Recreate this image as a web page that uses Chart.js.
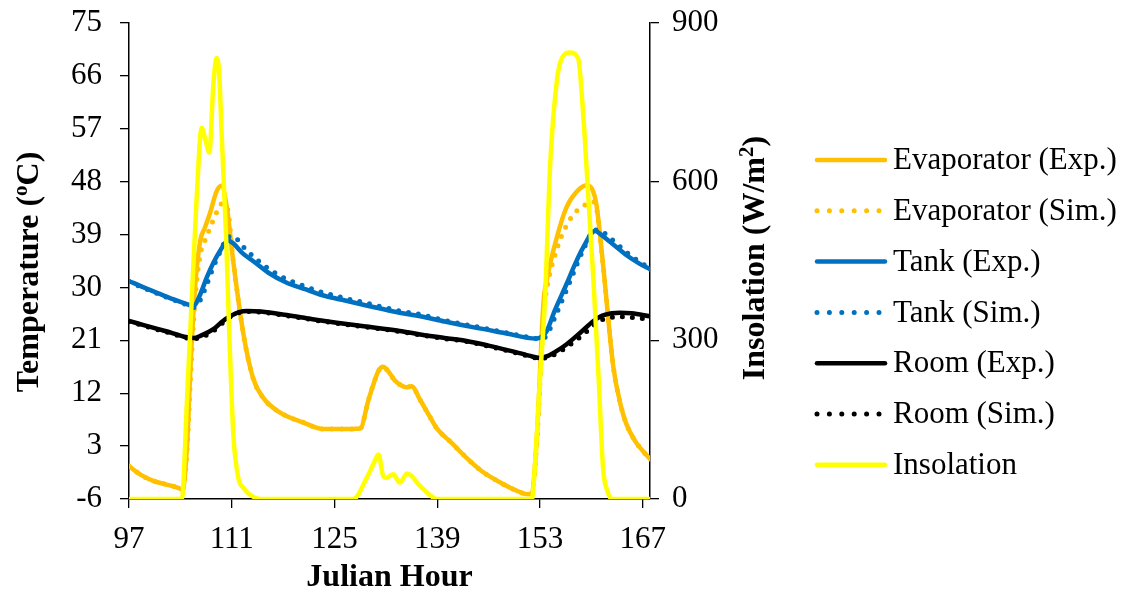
<!DOCTYPE html>
<html>
<head>
<meta charset="utf-8">
<script src="https://cdn.jsdelivr.net/npm/chart.js@4"></script>
<style>
  html, body { margin: 0; padding: 0; background: #fff; }
  canvas { display: block; }
</style>
</head>
<body>
<canvas id="thermalChart" width="1133" height="597"></canvas>
<script>
// Axis ticks
const hourTicks = [97, 111, 125, 139, 153, 167];
const tempTicks = [-6, 3, 12, 21, 30, 39, 48, 57, 66, 75];
const insolTicks = [0, 300, 600, 900];

// Evaporator temperatures (°C)
const evapHours = [97, 98.5, 100.3, 102, 103.7, 104.3, 104.9, 105.4, 106, 106.7, 107.35, 108, 108.95, 109.6, 110.4, 111.2, 112.6, 113.9, 115.3, 117.6, 120.8, 123.5, 126, 128.5, 129.6, 130.3, 131, 131.6, 132.3, 133.2, 134, 134.8, 135.5, 136.7, 138, 138.9, 141, 143, 145, 147.6, 149.5, 151.4, 151.9, 152.6, 153.5, 153.9, 155.3, 156.6, 158, 159.4, 160.2, 160.7, 161.6, 163, 164, 164.8, 166, 167, 168];
const evapExp = [-0.4, -1.8, -2.9, -3.5, -4.1, -4.4, 3, 17, 30, 37.9, 40.2, 42.5, 46.4, 47.3, 43, 34.5, 22, 14.6, 11.2, 8.7, 7, 5.9, 5.9, 6, 10.7, 13.5, 15.8, 16.5, 15.8, 14.2, 13.4, 13, 13.2, 10.8, 8, 6.1, 3.5, 1, -1.2, -3.2, -4.4, -5.2, -5, 5, 27.7, 31.1, 38.5, 43.6, 46.3, 47.4, 46.5, 44.1, 33.9, 16.5, 10, 6.7, 3.8, 2.2, 0.8];
const evapSim = [-0.4, -1.8, -2.9, -3.5, -4.1, -4.4, 2, 15, 28, 35.5, 38, 40, 42.8, 44.2, 43.5, 34.5, 22, 14.6, 11.2, 8.7, 7, 5.9, 5.9, 6, 10.7, 13.5, 15.8, 16.5, 15.8, 14.2, 13.4, 13, 13.2, 10.8, 8, 6.1, 3.5, 1, -1.2, -3.2, -4.4, -5.2, -5, 4, 25.5, 29.5, 36.5, 40.5, 43, 44.2, 44.6, 43.5, 33.9, 16.5, 10, 6.7, 3.8, 2.2, 0.8];

// Storage tank temperatures (°C)
const tankHours = [97, 99, 101, 103, 105, 105.8, 106.6, 107.6, 108.5, 109.4, 110.5, 111.2, 112.5, 113.9, 116, 118.5, 121, 123, 126, 129.8, 133.9, 136.7, 140, 144, 148, 152.5, 153.2, 153.9, 155, 156.6, 157.8, 158.9, 160.5, 161.5, 162.5, 163.5, 165, 166.5, 168];
const tankExp = [31.1, 30, 29, 28, 27.1, 26.8, 28.5, 31.7, 34.2, 36.2, 38, 37.5, 35.8, 34.5, 32.5, 30.8, 29.7, 28.8, 27.9, 26.8, 25.7, 25.1, 24.2, 23.2, 22.3, 21.3, 21.6, 22.5, 26, 30.5, 34, 36.8, 39.6, 38.8, 37.8, 36.8, 35.3, 34.1, 33.1];
const tankSim = [31, 29.9, 28.9, 27.9, 27, 26.6, 27.6, 30.5, 33.5, 36, 38.6, 38.7, 37, 35.3, 33.2, 31.4, 30.2, 29.3, 28.3, 27.2, 26, 25.4, 24.4, 23.4, 22.4, 21.3, 21.2, 21.8, 24.8, 29.5, 33.2, 36.4, 39.8, 39.5, 38.5, 37.4, 35.8, 34.4, 33.3];

// Room temperatures (°C)
const roomHours = [97, 99, 101, 103, 104.5, 105.8, 106.8, 108.5, 109.8, 110.8, 112, 113.1, 115, 118.5, 122, 125.3, 129, 133.9, 136.7, 140, 143, 146, 149, 151.5, 153, 154, 155.3, 156.6, 158.5, 160.3, 161.5, 162.8, 163.9, 165.5, 168];
const roomExp = [24.3, 23.6, 22.9, 22.2, 21.6, 21.4, 21.8, 22.9, 24.3, 25.1, 25.8, 26, 25.9, 25.3, 24.6, 24, 23.4, 22.6, 22, 21.4, 20.9, 20.1, 19.2, 18.4, 18, 18.3, 19.2, 20.3, 22.3, 24.3, 25.2, 25.6, 25.7, 25.6, 25.1];
const roomSim = [24.2, 23.5, 22.8, 22.1, 21.5, 21.3, 21.5, 22.6, 24, 25, 25.7, 25.9, 25.8, 25.2, 24.5, 23.9, 23.3, 22.5, 21.9, 21.3, 20.8, 20, 19.1, 18.3, 17.9, 18.1, 18.8, 19.8, 21.6, 23.5, 24.5, 24.9, 25, 24.9, 24.6];

// Solar insolation (W/m²)
const insolHours = [97, 104.2, 104.9, 105.54, 106.2, 106.9, 107.4, 107.95, 108.5, 108.95, 109.3, 109.63, 110.22, 110.67, 111.22, 111.9, 112.6, 113.5, 114.85, 127.57, 129.4, 130.3, 131, 131.66, 132.1, 133, 133.9, 134.9, 136.66, 137.8, 138.9, 151.9, 152.3, 153, 153.7, 154.4, 155.3, 156, 157.1, 158.2, 158.9, 159.6, 160.3, 161, 161.6, 162.2, 162.8, 168];
const insolation = [0, 0, 186, 374, 563, 702, 680, 655, 784, 834, 803, 689, 500, 311, 122, 40, 21, 8, 0, 0, 40, 66, 84, 43, 40, 47, 31, 48, 25, 10, 0, 0, 59, 225, 380, 633, 790, 834, 844, 834, 727, 570, 412, 229, 59, 15, 0, 0];

const seriesNames = ['Evaporator (Exp.)', 'Evaporator (Sim.)', 'Tank (Exp.)', 'Tank (Sim.)', 'Room (Exp.)', 'Room (Sim.)', 'Insolation'];
const seriesColors = ['#FFC000', '#FFC000', '#0070C0', '#0070C0', '#000000', '#000000', '#FFFF00'];
const seriesDotted = [false, true, false, true, false, true, false];

const serif = "'Times New Roman', 'Liberation Serif', serif";

function toPoints(xs, ys) {
    return xs.map((x, i) => ({ x: x, y: ys[i] }));
}

function makeDataset(idx, points, axis) {
    const dotted = seriesDotted[idx];
    return {
        label: seriesNames[idx],
        data: points,
        yAxisID: axis,
        borderColor: seriesColors[idx],
        backgroundColor: seriesColors[idx],
        borderWidth: dotted ? 5 : 4.5,
        borderDash: dotted ? [0, 10] : [],
        borderCapStyle: 'round',
        borderJoinStyle: 'round',
        pointRadius: 0,
        cubicInterpolationMode: 'monotone',
        fill: false,
        order: 6 - idx // later series sit on top
    };
}

// fixed axis sizes so the plot area lands where it should
function fixVertical(width) {
    return s => {
        s.width = width;
        s.paddingTop = 0;
        s.paddingBottom = 0;
    };
}

// draws text rotated -90deg around (cx, cy), with superscript pieces
function drawRotatedTitle(ctx, parts, cx, cy) {
    const base = 'bold 32px ' + serif;
    const sup = 'bold 21px ' + serif;
    let total = 0;
    parts.forEach(p => {
        ctx.font = p[1] ? sup : base;
        total += ctx.measureText(p[0]).width;
    });
    ctx.save();
    ctx.translate(cx, cy);
    ctx.rotate(-Math.PI / 2);
    ctx.textAlign = 'left';
    ctx.textBaseline = 'alphabetic';
    let x = -total / 2;
    parts.forEach(p => {
        ctx.font = p[1] ? sup : base;
        ctx.fillText(p[0], x, p[1] ? 0 : 11);
        x += ctx.measureText(p[0]).width;
    });
    ctx.restore();
}

// Axis titles and the legend on the right
const decorations = {
    id: 'decorations',
    afterDraw(chart) {
        const ctx = chart.ctx;
        const area = chart.chartArea;
        ctx.save();
        ctx.fillStyle = '#000';

        ctx.font = 'bold 32px ' + serif;
        ctx.textAlign = 'center';
        ctx.textBaseline = 'middle';
        ctx.fillText('Julian Hour', (area.left + area.right) / 2, 578);

        drawRotatedTitle(ctx, [['Temperature (', 0], ['o', 1], ['C)', 0]], 27, 272);
        drawRotatedTitle(ctx, [['Insolation (W/m', 0], ['2', 1], [')', 0]], 753, 258);

        seriesNames.forEach((name, i) => {
            const y = 160 + i * 50.8;
            ctx.beginPath();
            ctx.strokeStyle = seriesColors[i];
            ctx.lineCap = 'round';
            if (seriesDotted[i]) {
                ctx.lineWidth = 5;
                ctx.setLineDash([0, 12.4]);
            } else {
                ctx.lineWidth = 4.5;
                ctx.setLineDash([]);
            }
            ctx.moveTo(817, y);
            ctx.lineTo(885, y);
            ctx.stroke();
            ctx.setLineDash([]);
            ctx.font = '31px ' + serif;
            ctx.textAlign = 'left';
            ctx.textBaseline = 'middle';
            ctx.fillText(name, 893, y + 1);
        });
        ctx.restore();
    }
};

const ctxThermal = document.getElementById('thermalChart').getContext('2d');
const thermalChart = new Chart(ctxThermal, {
    type: 'line',
    data: {
        datasets: [
            makeDataset(0, toPoints(evapHours, evapExp), 'y'),
            makeDataset(1, toPoints(evapHours, evapSim), 'y'),
            makeDataset(2, toPoints(tankHours, tankExp), 'y'),
            makeDataset(3, toPoints(tankHours, tankSim), 'y'),
            makeDataset(4, toPoints(roomHours, roomExp), 'y'),
            makeDataset(5, toPoints(roomHours, roomSim), 'y'),
            makeDataset(6, toPoints(insolHours, insolation), 'y2')
        ]
    },
    options: {
        responsive: false,
        animation: false,
        devicePixelRatio: 1,
        layout: {
            padding: { left: 0, right: 353, top: 23, bottom: 0 }
        },
        plugins: {
            legend: { display: false },
            tooltip: { enabled: false }
        },
        scales: {
            x: {
                type: 'linear',
                min: 97,
                max: 168,
                afterBuildTicks: s => { s.ticks = hourTicks.map(v => ({ value: v })); },
                afterFit: s => { s.height = 98; },
                grid: { drawOnChartArea: false, drawTicks: true, tickLength: 9, color: '#000', lineWidth: 1.3 },
                border: { display: true, color: '#000', width: 1.5 },
                ticks: { color: '#000', font: { family: serif, size: 31 }, padding: 13, maxRotation: 0 }
            },
            y: {
                position: 'left',
                min: -6,
                max: 75,
                afterBuildTicks: s => { s.ticks = tempTicks.map(v => ({ value: v })); },
                afterFit: fixVertical(129),
                grid: { drawOnChartArea: false, drawTicks: true, tickLength: 9, color: '#000', lineWidth: 1.3 },
                border: { display: true, color: '#000', width: 1.5 },
                ticks: { color: '#000', font: { family: serif, size: 31 }, padding: 18 }
            },
            y2: {
                position: 'right',
                min: 0,
                max: 900,
                afterBuildTicks: s => { s.ticks = insolTicks.map(v => ({ value: v })); },
                afterFit: fixVertical(130),
                grid: { drawOnChartArea: false, drawTicks: true, tickLength: 9, color: '#000', lineWidth: 1.3 },
                border: { display: true, color: '#000', width: 1.5 },
                ticks: { color: '#000', font: { family: serif, size: 31 }, padding: 13 }
            }
        }
    },
    plugins: [decorations]
});
</script>
</body>
</html>
